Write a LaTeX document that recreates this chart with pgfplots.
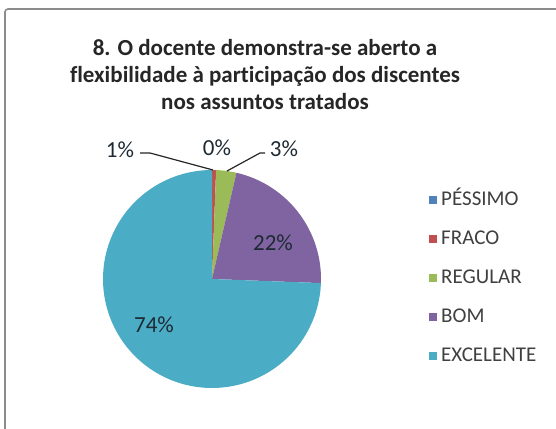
\documentclass[border=0pt]{standalone}
\usepackage{fontspec}
\setmainfont{Carlito}[Ligatures=NoCommon]
\usepackage{pgfplots}
\pgfplotsset{compat=1.18}
\definecolor{cPes}{HTML}{4F81BD}
\definecolor{cFra}{HTML}{C0504D}
\definecolor{cReg}{HTML}{9BBB59}
\definecolor{cBom}{HTML}{8064A2}
\definecolor{cExc}{HTML}{4BACC6}
\definecolor{titlecol}{HTML}{262626}
\definecolor{labcol}{HTML}{1E2A33}
\definecolor{legcol}{HTML}{404040}
\begin{document}
\begin{tikzpicture}[x=1bp,y=1bp]
\useasboundingbox (0,0) rectangle (556,428);
\fill[white] (0,0) rectangle (556,428);
\draw[color=black!45, line width=1.6bp, rounded corners=3bp] (5,-5) -- (5,419) -- (561,419);
% data (percent)
\def\vPes{0}\def\vFra{0.6}\def\vReg{3.0}\def\vBom{22.0}\def\vExc{74.4}
\pgfmathsetmacro\aA{90}
\pgfmathsetmacro\aB{\aA-3.6*\vPes}
\pgfmathsetmacro\aC{\aB-3.6*\vFra}
\pgfmathsetmacro\aD{\aC-3.6*\vReg}
\pgfmathsetmacro\aE{\aD-3.6*\vBom}
\pgfmathsetmacro\aF{\aE-3.6*\vExc}
\def\cx{212}\def\cy{149}\def\pr{109}
\begin{axis}[at={(0,0)}, anchor=south west, width=556bp, height=428bp, scale only axis,
  xmin=0, xmax=556, ymin=0, ymax=428, hide axis, clip=false,
  legend image code/.code={\fill[#1] (0bp,-4bp) rectangle (8bp,4bp);},
  legend cell align=left,
  legend style={at={(axis cs:429,237)}, anchor=north west, draw=none, fill=none,
    inner sep=0pt, font=\fontsize{21bp}{24bp}\selectfont, text=legcol,
    row sep=21bp, column sep=4bp,
    nodes={inner sep=0pt, text height=14bp, text depth=4bp}},
]
\addlegendimage{fill=cPes, draw=none}
\addlegendentry{PÉSSIMO}
\addplot[fill=cFra, draw=none, domain=\aC:\aB, samples=4, variable=\t]
  ({\cx+\pr*cos(\t)},{\cy+\pr*sin(\t)}) -- (axis cs:\cx,\cy) -- cycle;
\addlegendentry{FRACO}
\addplot[fill=cReg, draw=none, domain=\aD:\aC, samples=8, variable=\t]
  ({\cx+\pr*cos(\t)},{\cy+\pr*sin(\t)}) -- (axis cs:\cx,\cy) -- cycle;
\addlegendentry{REGULAR}
\addplot[fill=cBom, draw=none, domain=\aE:\aD, samples=40, variable=\t]
  ({\cx+\pr*cos(\t)},{\cy+\pr*sin(\t)}) -- (axis cs:\cx,\cy) -- cycle;
\addlegendentry{BOM}
\addplot[fill=cExc, draw=none, domain=\aF:\aE, samples=120, variable=\t]
  ({\cx+\pr*cos(\t)},{\cy+\pr*sin(\t)}) -- (axis cs:\cx,\cy) -- cycle;
\addlegendentry{EXCELENTE}
% leader lines
\draw[black!85, line width=1.2bp] (axis cs:140,275) -- (axis cs:150,275) -- (axis cs:213,258);
\draw[black!85, line width=1.2bp] (axis cs:227,257) -- (axis cs:260,275) -- (axis cs:265,275);
% data labels
\begin{scope}[every node/.style={font=\fontsize{23bp}{26bp}\selectfont, text=labcol, inner sep=0pt}]
\node at (axis cs:120,278) {1\%};
\node at (axis cs:217,280) {0\%};
\node at (axis cs:284,279) {3\%};
\node at (axis cs:273,185) {22\%};
\node at (axis cs:154,103) {74\%};
\end{scope}
\end{axis}
\node[align=center, text=titlecol, font=\bfseries\fontsize{23bp}{27bp}\selectfont] at (265,353)
  {8. O docente demonstra-se aberto a\\flexibilidade à participação dos discentes\\nos assuntos tratados};
\end{tikzpicture}
\end{document}
